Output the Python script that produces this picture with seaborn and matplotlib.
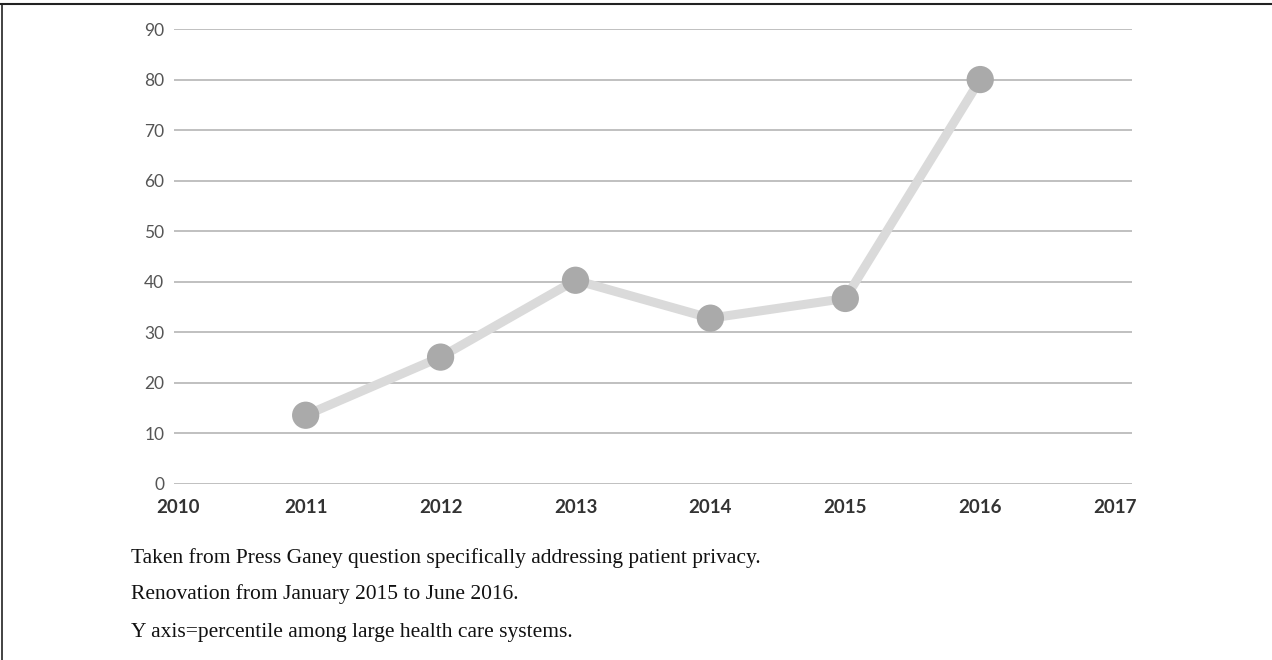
import matplotlib
matplotlib.use("Agg")
import matplotlib.pyplot as plt
import seaborn as sns
import pandas as pd
from matplotlib.lines import Line2D

years = ["2010", "2011", "2012", "2013", "2014", "2015", "2016", "2017"]
point_years = ["2011", "2012", "2013", "2014", "2015", "2016"]
percentile = [13.6, 25.1, 40.3, 32.8, 36.7, 80.0]
y_ticks = [0, 10, 20, 30, 40, 50, 60, 70, 80, 90]
notes = [
    "Taken from Press Ganey question specifically addressing patient privacy.",
    "Renovation from January 2015 to June 2016.",
    "Y axis=percentile among large health care systems.",
]

sns.set_theme(style="white")
plt.rcParams["font.family"] = ["Lato", "DejaVu Sans"]

df = pd.DataFrame({"pos": [years.index(y) for y in point_years], "value": percentile})

fig = plt.figure(figsize=(12.72, 6.6), dpi=100)
ax = fig.add_axes([174/1272, 176/660, 958/1272, 455/660])

sns.lineplot(data=df, x="pos", y="value", ax=ax, color="#dadada", linewidth=6.5,
             solid_capstyle="round", zorder=3)
sns.scatterplot(data=df, x="pos", y="value", ax=ax, color="#aaaaaa", s=385,
                edgecolor="none", zorder=4)

ax.set_xlim(0.024, 7.125)
ax.set_ylim(0, 90)
ax.set_yticks(y_ticks)
ax.set_yticklabels([str(v) for v in y_ticks], fontsize=12.5, color="#555555")
tick_pos = [0.055] + list(range(1, len(years)))
ax.set_xticks(tick_pos)
ax.set_xticklabels(years, fontsize=13.5, color="#333333", fontweight="bold")
ax.tick_params(axis="y", length=0, pad=7)
ax.tick_params(axis="x", length=0, pad=11)
ax.grid(axis="y", color="#b5b5b5", linewidth=1.2)
ax.set_axisbelow(True)
for s in ax.spines.values():
    s.set_visible(False)
ax.set_xlabel("")
ax.set_ylabel("")

ys = [558, 594, 632]
for t, yy in zip(notes, ys):
    fig.text(131/1272, 1 - yy/660, t, fontsize=15.5, family=["Liberation Serif", "DejaVu Serif"],
             color="#111111", va="center", ha="left")

fig.add_artist(Line2D([0, 1], [1 - 4/660, 1 - 4/660], transform=fig.transFigure, color="#222222", linewidth=1.5))
fig.add_artist(Line2D([1.5/1272, 1.5/1272], [0, 1 - 4/660], transform=fig.transFigure, color="#222222", linewidth=1.2))

fig.savefig("out.png", dpi=100)
